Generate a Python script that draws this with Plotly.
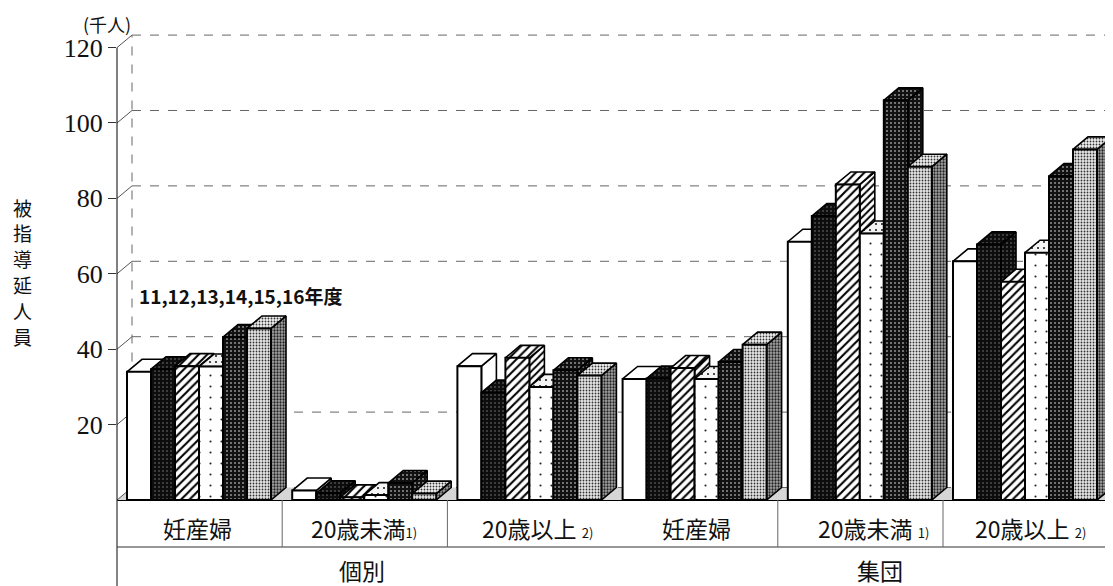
import plotly.graph_objects as go

# ---------------- data ----------------
years = ["11", "12", "13", "14", "15", "16"]
categories = ["妊産婦", "20歳未満", "20歳以上", "妊産婦", "20歳未満", "20歳以上"]
category_notes = ["", "1)", "2)", "", "1)", "2)"]
groups = ["個別", "集団"]

v11 = [34.0, 2.5, 35.5, 32.1, 68.5, 63.3]
v12 = [34.7, 1.8, 28.5, 32.2, 75.3, 67.8]
v13 = [35.5, 0.7, 37.7, 35.0, 83.7, 57.9]
v14 = [35.4, 1.3, 30.0, 32.1, 70.7, 65.6]
v15 = [43.2, 4.5, 34.4, 36.6, 106.0, 85.9]
v16 = [45.5, 1.7, 33.0, 41.2, 88.4, 93.0]
series_values = [v11, v12, v13, v14, v15, v16]

tick_values = [20, 40, 60, 80, 100, 120]
tick_labels = ["20", "40", "60", "80", "100", "120"]
unit_label = "(千人)"
y_title = "被指導延人員"
year_label = "11,12,13,14,15,16年度"

# ---------------- geometry (page pixels) ----------------
PAGE_W, PAGE_H = 1113, 586
OFF = 8                                   # default body margin of the html page
W, H = PAGE_W - OFF, PAGE_H - OFF         # figure size
PLOT_L, PLOT_R, PLOT_T, PLOT_B = 117, 1113, 29, 500   # plot area in page pixels
ML, MR, MT, MB = PLOT_L - OFF, OFF + W - PLOT_R, PLOT_T - OFF, OFF + H - PLOT_B
XR = [-0.5, 5.529]
YR = [0, 124.93]
PX_X = (PLOT_R - PLOT_L) / (XR[1] - XR[0])
PX_Y = (PLOT_B - PLOT_T) / (YR[1] - YR[0])
DX = 15 / PX_X          # depth offset (x units)
DY = 12.5 / PX_Y        # depth offset (y units)
GAP = 10 / PX_X
BW = 24 / PX_X


def px_to_paper_x(px):
    return (px - PLOT_L) / (PLOT_R - PLOT_L)


def px_to_paper_y(py):
    return (PLOT_B - py) / (PLOT_B - PLOT_T)


# ---------------- styles ----------------
def pat(shape, fg, bg, size, sol):
    return dict(shape=shape, fgcolor=fg, bgcolor=bg, size=size, solidity=sol, fillmode="replace")


styles = [
    dict(color="white", front=pat("", "black", "white", 8, 0.1),
         top=pat("", "black", "white", 8, 0.1), side=pat("", "black", "white", 8, 0.1)),
    dict(color="#0d0d0d", front=pat(".", "#8a8a8a", "#0d0d0d", 4, 0.1),
         top=pat(".", "#8a8a8a", "#0d0d0d", 4, 0.1), side=pat(".", "#8a8a8a", "#0d0d0d", 4, 0.1)),
    dict(color="white", front=pat("/", "black", "white", 6, 0.35),
         top=pat("/", "black", "white", 6, 0.35), side=pat("/", "black", "white", 5, 0.4)),
    dict(color="white", front=pat(".", "#222", "white", 11, 0.03),
         top=pat(".", "#222", "#f4f4f4", 6, 0.1), side=pat(".", "#222", "white", 8, 0.06)),
    dict(color="#111111", front=pat(".", "#a0a0a0", "#111111", 4, 0.16),
         top=pat(".", "#a0a0a0", "#111111", 4, 0.16), side=pat(".", "#a0a0a0", "#111111", 4, 0.16)),
    dict(color="white", front=pat(".", "#333", "#e6e6e6", 3, 0.3),
         top=pat(".", "#333", "#f0f0f0", 3, 0.3), side=pat(".", "#222", "#a8a8a8", 3, 0.45)),
]

fig = go.Figure()

# ---------------- 3D top / side faces (base axes, below bar fronts) ----------------
n_cat = len(categories)
for i in range(n_cat):
    for j, vals in enumerate(series_values):
        v = vals[i]
        x0 = i - 0.5 + GAP + j * BW
        x1 = x0 + BW
        st = styles[j]
        fig.add_trace(go.Scatter(
            x=[x1, x1 + DX, x1 + DX, x1, x1],
            y=[0, DY, v + DY, v, 0],
            mode="lines", fill="toself",
            fillcolor=st["side"]["bgcolor"], fillpattern=st["side"],
            line=dict(color="black", width=1.6),
            hoverinfo="skip", showlegend=False))
        fig.add_trace(go.Scatter(
            x=[x0, x1, x1 + DX, x0 + DX, x0],
            y=[v, v, v + DY, v + DY, v],
            mode="lines", fill="toself",
            fillcolor=st["top"]["bgcolor"], fillpattern=st["top"],
            line=dict(color="black", width=1.6),
            hoverinfo="skip", showlegend=False))

# ---------------- bar front faces (overlay axes, drawn on top) ----------------
for j, vals in enumerate(series_values):
    st = styles[j]
    xs = [i - 0.5 + GAP + j * BW + BW / 2 for i in range(n_cat)]
    fig.add_trace(go.Bar(
        x=xs, y=vals, width=BW, name=years[j] + "年度",
        xaxis="x2", yaxis="y2",
        marker=dict(color=st["color"], pattern=st["front"],
                    line=dict(color="black", width=2)),
        showlegend=False))

# ---------------- back wall, floor, axis shapes ----------------
shapes = []
grid_style = dict(color="#666666", width=1, dash="dash")
shapes.append(dict(type="path", xref="x", yref="y", layer="below",
                   path=f"M {XR[0]},0 L {XR[1] + DX},0 L {XR[1] + DX},{DY} L {XR[0] + DX},{DY} Z",
                   fillcolor="#d6d6d6", line=dict(width=0)))
for v in [0] + tick_values:
    shapes.append(dict(type="line", xref="x", yref="y", layer="below",
                       x0=XR[0] + DX, x1=XR[1], y0=v + DY, y1=v + DY, line=grid_style))
    shapes.append(dict(type="line", xref="x", yref="y", layer="below",
                       x0=XR[0], x1=XR[0] + DX, y0=v, y1=v + DY,
                       line=dict(color="#555555", width=1)))
shapes.append(dict(type="line", xref="x", yref="y", layer="below",
                   x0=XR[0] + DX, x1=XR[0] + DX, y0=DY, y1=tick_values[-1] + DY, line=grid_style))
shapes.append(dict(type="line", xref="paper", yref="y", x0=0, x1=0, y0=0, y1=tick_values[-1],
                   line=dict(color="black", width=1)))

y_row = px_to_paper_y(547)
shapes.append(dict(type="line", xref="paper", yref="paper", x0=0, x1=1, y0=y_row, y1=y_row,
                   line=dict(color="#333333", width=1.2)))
shapes.append(dict(type="line", xref="paper", yref="paper", x0=0, x1=0, y0=0, y1=px_to_paper_y(586),
                   line=dict(color="#333333", width=1.2)))
for k in [1, 2, 4, 5]:
    xk = px_to_paper_x(PLOT_L + PX_X * k)
    shapes.append(dict(type="line", xref="paper", yref="paper", x0=xk, x1=xk, y0=0, y1=y_row,
                       line=dict(color="#666666", width=1)))

# ---------------- text ----------------
jp = "Noto Sans CJK JP"
annotations = []
cat_px = [197, 364, 537, 696, 873, 1030]
for i, name in enumerate(categories):
    note = category_notes[i]
    sep = "" if i == 1 else " "
    txt = name + (sep + f"<span style='font-size:13px'>{note}</span>" if note else "")
    annotations.append(dict(xref="paper", yref="paper", x=px_to_paper_x(cat_px[i]), y=px_to_paper_y(528),
                            text=txt, showarrow=False, font=dict(family=jp, size=23, color="#111"),
                            xanchor="center", yanchor="middle"))
group_px = [362, 880]
for g, name in enumerate(groups):
    annotations.append(dict(xref="paper", yref="paper", x=px_to_paper_x(group_px[g]), y=px_to_paper_y(570),
                            text=name, showarrow=False, font=dict(family=jp, size=23, color="#111"),
                            xanchor="center", yanchor="middle"))
annotations.append(dict(xref="paper", yref="paper", x=px_to_paper_x(107), y=px_to_paper_y(24),
                        text=unit_label, showarrow=False, font=dict(family=jp, size=18, color="#111"),
                        xanchor="center", yanchor="middle"))
# vertical axis title: one character per line, stacked
for k, ch in enumerate(y_title):
    annotations.append(dict(xref="paper", yref="paper", x=px_to_paper_x(22),
                            y=px_to_paper_y(207 + 25.8 * k),
                            text=ch, showarrow=False, borderpad=0,
                            font=dict(family=jp, size=19, color="#111"),
                            xanchor="center", yanchor="middle"))
annotations.append(dict(xref="paper", yref="paper", x=px_to_paper_x(137), y=px_to_paper_y(295),
                        text=f"<b>{year_label}</b>", showarrow=False,
                        font=dict(family=jp, size=19, color="#111"),
                        xanchor="left", yanchor="middle"))

fig.update_layout(
    width=W, height=H,
    margin=dict(l=ML, r=MR, t=MT, b=MB, pad=0),
    paper_bgcolor="white", plot_bgcolor="white",
    barmode="overlay",
    showlegend=False,
    xaxis=dict(range=XR, showgrid=False, zeroline=False, showticklabels=False, ticks="",
               showline=True, linecolor="black", linewidth=1),
    yaxis=dict(range=YR, showgrid=False, zeroline=False, showline=False,
               tickvals=tick_values, ticktext=tick_labels, ticks="outside", ticklen=8,
               tickcolor="#333", tickwidth=1,
               tickfont=dict(family="Liberation Serif", size=26, color="#111")),
    xaxis2=dict(range=XR, overlaying="x", visible=False),
    yaxis2=dict(range=YR, overlaying="y", visible=False),
    shapes=shapes,
    annotations=annotations,
)

fig.write_html("out.html")
